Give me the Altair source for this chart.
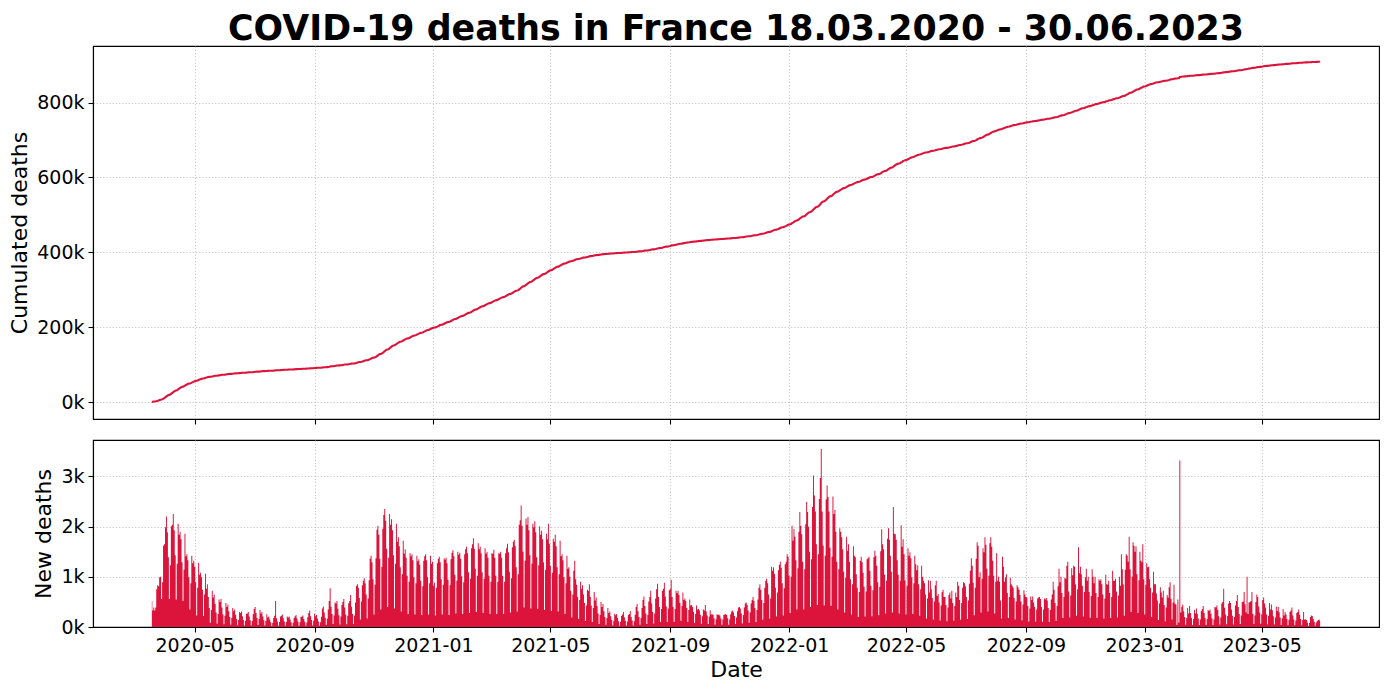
import altair as alt
import pandas as pd
import numpy as np

# Daily new deaths, one row per week (Wed..Tue), starting 2020-03-18
weeks = [
    [520, 330, 390, 330, 390, 750, 830],
    [810, 990, 1000, 560, 890, 1620, 1650],
    [1990, 2200, 1890, 1390, 560, 1230, 2010],
    [2040, 2250, 1930, 1430, 550, 1260, 2060],
    [1840, 1900, 1750, 1290, 520, 1140, 1860],
    [1410, 1450, 1330, 990, 350, 870, 1420],
    [1270, 1320, 1200, 890, 230, 780, 1280],
    [1040, 1080, 990, 740, 220, 650, 1060],
    [760, 850, 600, 380, 85, 340, 720],
    [590, 650, 460, 290, 65, 260, 550],
    [500, 560, 390, 250, 55, 225, 480],
    [400, 450, 315, 200, 45, 180, 380],
    [315, 350, 245, 160, 35, 140, 300],
    [280, 310, 215, 140, 30, 125, 265],
    [270, 300, 210, 135, 30, 120, 255],
    [360, 400, 280, 180, 40, 160, 340],
    [270, 300, 210, 135, 30, 120, 255],
    [190, 210, 150, 95, 20, 85, 180],
    [225, 520, 175, 110, 25, 100, 210],
    [225, 250, 175, 110, 25, 100, 210],
    [190, 210, 150, 95, 20, 85, 180],
    [215, 240, 170, 110, 25, 95, 205],
    [205, 230, 160, 105, 25, 90, 195],
    [280, 330, 215, 140, 30, 125, 265],
    [215, 240, 170, 110, 25, 95, 205],
    [370, 410, 290, 185, 40, 165, 350],
    [520, 770, 405, 260, 60, 230, 490],
    [470, 520, 365, 235, 50, 210, 440],
    [500, 560, 390, 250, 55, 225, 475],
    [520, 640, 405, 260, 60, 230, 490],
    [820, 850, 780, 580, 150, 510, 830],
    [920, 970, 870, 650, 170, 570, 930],
    [1360, 1420, 1290, 950, 250, 840, 1370],
    [1940, 2020, 1840, 1360, 350, 1200, 1960],
    [2230, 2350, 2120, 1560, 400, 1380, 2250],
    [2040, 2150, 1930, 1430, 370, 1260, 2060],
    [1700, 1790, 1610, 1190, 310, 1050, 1720],
    [1460, 1550, 1380, 1020, 260, 900, 1470],
    [1410, 1450, 1330, 990, 250, 870, 1420],
    [1310, 1350, 1240, 920, 240, 810, 1320],
    [1410, 1450, 1330, 990, 250, 870, 1420],
    [1260, 1300, 820, 880, 230, 780, 1270],
    [1360, 1400, 1290, 950, 250, 840, 1370],
    [1340, 1380, 1270, 940, 240, 830, 1350],
    [1480, 1530, 1410, 1040, 270, 920, 1500],
    [1440, 1480, 1360, 1010, 260, 890, 1450],
    [1550, 1600, 1470, 1090, 280, 960, 1570],
    [1650, 1770, 1560, 1160, 300, 1020, 1670],
    [1550, 1600, 1470, 1090, 280, 960, 1570],
    [1460, 1500, 1380, 1020, 260, 900, 1470],
    [1460, 1540, 1380, 1020, 260, 900, 1470],
    [1460, 1500, 1380, 1020, 260, 900, 1470],
    [1570, 1660, 1490, 1100, 290, 970, 1590],
    [1700, 1740, 1610, 1190, 310, 1050, 2040],
    [2130, 2420, 2020, 1500, 390, 1320, 2160],
    [2040, 2190, 1930, 1430, 370, 1260, 2060],
    [1990, 2110, 1890, 1390, 360, 1230, 2010],
    [1840, 1920, 1750, 1290, 340, 1140, 1860],
    [1750, 2060, 1660, 1220, 320, 1080, 1760],
    [1700, 1840, 1610, 1190, 310, 1050, 1720],
    [1410, 1450, 1330, 990, 260, 870, 1420],
    [1160, 1190, 1000, 720, 190, 650, 1120],
    [1320, 950, 840, 600, 160, 540, 900],
    [760, 830, 650, 480, 120, 430, 740],
    [720, 850, 600, 430, 100, 380, 700],
    [530, 590, 420, 270, 60, 240, 500],
    [400, 460, 315, 200, 45, 180, 380],
    [280, 310, 215, 140, 30, 125, 265],
    [235, 260, 180, 115, 25, 105, 220],
    [250, 300, 195, 125, 30, 110, 240],
    [260, 320, 200, 130, 30, 115, 245],
    [400, 460, 315, 200, 45, 180, 380],
    [540, 610, 420, 270, 60, 240, 510],
    [600, 720, 470, 300, 70, 270, 570],
    [750, 860, 600, 400, 100, 360, 720],
    [760, 880, 610, 410, 100, 370, 730],
    [750, 940, 600, 400, 100, 360, 720],
    [680, 720, 640, 480, 125, 420, 690],
    [540, 570, 520, 380, 100, 340, 550],
    [430, 440, 400, 300, 80, 260, 430],
    [350, 360, 330, 245, 65, 215, 350],
    [330, 440, 310, 230, 60, 205, 335],
    [250, 260, 240, 175, 45, 155, 255],
    [240, 250, 230, 170, 45, 150, 245],
    [250, 260, 240, 175, 45, 155, 255],
    [310, 330, 290, 220, 60, 190, 315],
    [390, 400, 370, 270, 70, 240, 390],
    [470, 490, 440, 330, 85, 290, 470],
    [540, 600, 520, 380, 100, 340, 550],
    [780, 850, 740, 540, 145, 480, 780],
    [920, 960, 870, 650, 170, 570, 1200],
    [1120, 1190, 1060, 780, 210, 690, 1130],
    [1240, 1300, 1180, 870, 230, 770, 1250],
    [1300, 1450, 1400, 1020, 280, 1000, 2020],
    [1720, 1950, 1800, 1330, 350, 1170, 1900],
    [2290, 2020, 1850, 1300, 350, 1150, 2050],
    [2490, 2290, 2000, 1500, 400, 1350, 2390],
    [3020, 2620, 2300, 1650, 440, 1450, 2550],
    [2970, 3550, 2300, 1620, 430, 1420, 2540],
    [2820, 2590, 2300, 1580, 420, 1400, 2600],
    [2250, 2330, 1900, 1300, 350, 1150, 1970],
    [1900, 1790, 1550, 1100, 290, 980, 1800],
    [1520, 1650, 1300, 950, 250, 850, 1610],
    [1420, 1390, 1050, 780, 200, 700, 1320],
    [1400, 1290, 1080, 800, 210, 710, 1350],
    [1370, 1400, 1120, 820, 215, 730, 1390],
    [1520, 1420, 1220, 890, 235, 800, 1510],
    [1950, 1650, 1550, 1040, 270, 920, 1760],
    [1970, 1740, 1420, 1100, 290, 2390, 1860],
    [1850, 1740, 1330, 1040, 270, 920, 2030],
    [1600, 1750, 1450, 930, 250, 820, 1570],
    [1420, 1490, 1370, 990, 260, 870, 1420],
    [1250, 1130, 1230, 850, 225, 750, 1220],
    [1000, 920, 870, 650, 170, 570, 930],
    [690, 920, 750, 580, 150, 510, 830],
    [920, 620, 660, 490, 130, 430, 700],
    [740, 600, 600, 440, 115, 390, 640],
    [690, 570, 720, 480, 125, 420, 690],
    [600, 900, 820, 540, 145, 480, 780],
    [890, 870, 810, 600, 160, 530, 860],
    [1120, 1370, 1220, 880, 235, 780, 1360],
    [1690, 1620, 990, 1090, 290, 960, 1570],
    [1490, 1790, 1640, 1160, 310, 1020, 1670],
    [1790, 1600, 1320, 1020, 270, 900, 1470],
    [920, 1000, 900, 530, 170, 1400, 1200],
    [900, 990, 1050, 680, 180, 600, 980],
    [850, 820, 780, 580, 150, 510, 830],
    [790, 740, 640, 510, 135, 450, 730],
    [650, 600, 590, 420, 110, 370, 610],
    [540, 610, 490, 400, 105, 350, 570],
    [590, 600, 560, 400, 105, 350, 570],
    [550, 580, 530, 380, 100, 340, 550],
    [650, 900, 740, 480, 125, 420, 810],
    [1160, 890, 1000, 680, 180, 600, 980],
    [960, 1220, 1300, 710, 190, 630, 1170],
    [1030, 1220, 1200, 850, 225, 750, 1590],
    [1070, 1200, 1050, 820, 210, 700, 990],
    [1160, 920, 1000, 700, 185, 620, 1150],
    [1000, 870, 1000, 680, 180, 600, 950],
    [920, 950, 850, 650, 170, 570, 1040],
    [850, 840, 920, 680, 180, 600, 1120],
    [920, 920, 960, 710, 190, 630, 1000],
    [820, 1450, 1150, 850, 225, 1140, 1450],
    [1420, 1300, 1800, 1150, 300, 1000, 1690],
    [1620, 1500, 1610, 1050, 280, 930, 1500],
    [1320, 1290, 1650, 950, 250, 840, 1270],
    [1190, 1200, 950, 780, 200, 690, 1100],
    [850, 850, 670, 530, 140, 470, 790],
    [690, 590, 720, 440, 115, 390, 640],
    [590, 790, 890, 560, 150, 490, 840],
    [470, 450, 40, 550, 90, 3320, 290],
    [405, 450, 315, 200, 45, 180, 380],
    [270, 420, 280, 180, 40, 160, 340],
    [270, 370, 265, 170, 40, 150, 320],
    [360, 420, 280, 180, 40, 160, 340],
    [320, 350, 265, 170, 40, 150, 400],
    [390, 430, 340, 215, 50, 190, 470],
    [500, 760, 385, 250, 55, 220, 470],
    [520, 480, 350, 225, 50, 200, 430],
    [520, 640, 400, 260, 60, 230, 500],
    [510, 700, 455, 290, 1000, 260, 490],
    [500, 520, 700, 260, 60, 230, 500],
    [650, 600, 410, 290, 65, 255, 540],
    [590, 470, 390, 250, 55, 225, 480],
    [350, 450, 335, 215, 50, 190, 410],
    [320, 400, 295, 190, 40, 170, 360],
    [230, 300, 250, 160, 35, 145, 300],
    [330, 390, 230, 150, 35, 130, 280],
    [300, 350, 245, 160, 35, 140, 300],
    [150, 150, 140, 90, 20, 80, 200],
    [230, 220, 160, 105, 25, 90, 120],
    [140, 150, 120],
]

new_deaths = [v for w in weeks for v in w]
dates = pd.date_range("2020-03-18", periods=len(new_deaths), freq="D")
cumulated = np.cumsum(new_deaths)

tick_dates = ["2020-05-01", "2020-09-01", "2021-01-01", "2021-05-01", "2021-09-01",
              "2022-01-01", "2022-05-01", "2022-09-01", "2023-01-01", "2023-05-01"]
cum_ticks = [0, 200000, 400000, 600000, 800000]
new_ticks = [0, 1000, 2000, 3000]

df = pd.DataFrame({
    "date": dates.strftime("%Y-%m-%dT%H:%M:%S"),
    "new": new_deaths,
    "cum": cumulated,
})

RED = "#DC143C"
FONT = "DejaVu Sans"
x_domain = ["2020-01-17T14:38:00", "2023-08-29T09:22:00"]
tick_vals = [alt.DateTime(year=int(d[:4]), month=int(d[5:7]), date=int(d[8:10])) for d in tick_dates]

x_scale = alt.Scale(domain=x_domain)

top = alt.Chart(df).mark_line(color=RED, strokeWidth=2.1).encode(
    x=alt.X("date:T", scale=x_scale,
            axis=alt.Axis(values=tick_vals, labels=False, title=None, grid=True)),
    y=alt.Y("cum:Q", scale=alt.Scale(domain=[-45300, 951300], nice=False, zero=False),
            axis=alt.Axis(values=cum_ticks, title="Cumulated deaths",
                          labelExpr="format(datum.value/1000, 'd') + 'k'")),
).properties(
    width=1286, height=373,
    title=alt.TitleParams("COVID-19 deaths in France 18.03.2020 - 30.06.2023",
                          fontSize=34.8, fontWeight="bold", font=FONT,
                          anchor="middle", frame="group", offset=-2, color="black"),
)

# daily bars drawn as a step area: each day fills the span around its date
bottom = alt.Chart(df).mark_area(color=RED, interpolate="step", opacity=1).encode(
    x=alt.X("date:T", scale=x_scale,
            axis=alt.Axis(values=tick_vals, format="%Y-%m", title="Date", grid=True,
                          titlePadding=4)),
    y=alt.Y("new:Q", scale=alt.Scale(domain=[0, 3727], nice=False),
            axis=alt.Axis(values=new_ticks, title="New deaths",
                          labelExpr="format(datum.value/1000, 'd') + 'k'")),
).properties(width=1286, height=187)

chart = alt.vconcat(top, bottom, spacing=13).properties(
    padding={"left": 0, "top": 3, "right": 1, "bottom": 0}
).configure(
    font=FONT,
).configure_view(
    stroke="black", strokeWidth=1.1,
).configure_axis(
    labelFont=FONT, labelFontSize=19, labelColor="black",
    titleFont=FONT, titleFontSize=22, titleFontWeight="normal", titleColor="black",
    tickColor="black", tickSize=5, tickWidth=1.1,
    domainColor="black", domainWidth=1.1,
    gridColor="#b8b8b8", gridDash=[1.2, 2], gridWidth=0.8,
    labelPadding=4, titlePadding=5,
)

chart.save("out.html", embed_options={"renderer": "svg", "actions": False})
